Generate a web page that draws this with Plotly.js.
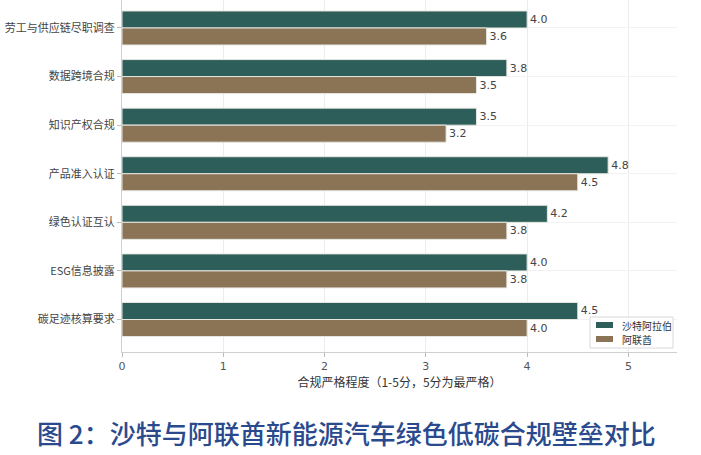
<!DOCTYPE html>
<html>
<head>
<meta charset="utf-8">
<script src="https://cdn.plot.ly/plotly-3.0.1.min.js"></script>
<style>html,body{margin:0;padding:0;background:#fff;}#chart{width:701px;height:455px;}</style>
</head>
<body>
<div id="chart"></div>
<script>
const categories = ['劳工与供应链尽职调查', '数据跨境合规', '知识产权合规', '产品准入认证', '绿色认证互认', 'ESG信息披露', '碳足迹核算要求'];
const saudiValues = [4.0, 3.8, 3.5, 4.8, 4.2, 4.0, 4.5];
const uaeValues = [3.6, 3.5, 3.2, 4.5, 3.8, 3.8, 4.0];
const seriesNames = ['沙特阿拉伯', '阿联酋'];
const seriesColors = ['#2E5E5A', '#8B7355'];
const xTicks = [0, 1, 2, 3, 4, 5];
const xTitle = '合规严格程度（1-5分，5分为最严格）';
const figTitle = '图 2：沙特与阿联酋新能源汽车绿色低碳合规壁垒对比';

const cjk = '"Noto Sans CJK SC", "DejaVu Sans", sans-serif';
const num = '"DejaVu Sans", "Noto Sans CJK SC", sans-serif';

const W = 701, H = 455, ML = 122, MR = 24, MT = 0, MB = 103;
const PW = W - ML - MR, PH = H - MT - MB;
const px = x => (x - ML) / PW;
const py = y => (H - MB - y) / PH;

function barTrace(vals, name, color) {
  return {
    type: 'bar', orientation: 'h', x: vals, y: categories, name: name,
    marker: {color: color, line: {color: '#e6e6e0', width: 1}},
    text: vals.map(v => v.toFixed(1)), textposition: 'outside', cliponaxis: false,
    textfont: {family: num, size: 11, color: '#444'},
    hoverinfo: 'x+name'
  };
}

const data = [
  barTrace(saudiValues, seriesNames[0], seriesColors[0]),
  barTrace(uaeValues, seriesNames[1], seriesColors[1])
];

// custom legend (box, swatches, labels)
const shapes = [{
  type: 'rect', xref: 'paper', yref: 'paper',
  x0: px(590), x1: px(673), y0: py(348), y1: py(317),
  fillcolor: 'rgba(255,255,255,0.9)', line: {color: '#d8d8d8', width: 1}, layer: 'above'
}];
const annotations = [];
const rowY = [325, 339];
seriesNames.forEach((n, i) => {
  shapes.push({
    type: 'rect', xref: 'paper', yref: 'paper',
    x0: px(596), x1: px(613), y0: py(rowY[i] + 3), y1: py(rowY[i] - 3),
    fillcolor: seriesColors[i], line: {width: 0}, layer: 'above'
  });
  annotations.push({
    xref: 'paper', yref: 'paper', x: px(620), y: py(rowY[i]), xanchor: 'left', yanchor: 'middle',
    text: n, showarrow: false, font: {family: cjk, size: 10, color: '#333'}
  });
});
annotations.push({
  xref: 'paper', yref: 'paper', x: px(346), y: py(432), xanchor: 'center', yanchor: 'middle',
  text: figTitle, showarrow: false,
  font: {family: cjk, size: 26, color: '#2B4A8E', weight: 500}
});

const layout = {
  width: W, height: H,
  margin: {l: ML, r: MR, t: MT, b: MB},
  paper_bgcolor: '#fff', plot_bgcolor: '#fff',
  barmode: 'group', bargap: 0.3, bargroupgap: 0,
  showlegend: false,
  xaxis: {
    range: [0, 5.48], tickvals: xTicks, ticktext: xTicks.map(String),
    showgrid: true, gridcolor: '#ececec', gridwidth: 1, zeroline: false,
    showline: true, linecolor: '#cfcfcf', linewidth: 1,
    ticks: 'outside', ticklen: 4, tickcolor: '#bbb',
    tickfont: {family: num, size: 11, color: '#555'},
    title: {text: xTitle, font: {family: cjk, size: 12, color: '#333'}, standoff: 6}
  },
  yaxis: {
    type: 'category', range: [6.669, -0.576],
    showgrid: true, gridcolor: '#f2f2f2', gridwidth: 1, zeroline: false,
    showline: true, linecolor: '#cfcfcf', linewidth: 1,
    ticks: 'outside', ticklen: 4, tickcolor: '#bbb',
    tickfont: {family: cjk, size: 11, color: '#444'}
  },
  shapes: shapes,
  annotations: annotations
};

Plotly.newPlot('chart', data, layout, {displayModeBar: false, staticPlot: true});
</script>
</body>
</html>
